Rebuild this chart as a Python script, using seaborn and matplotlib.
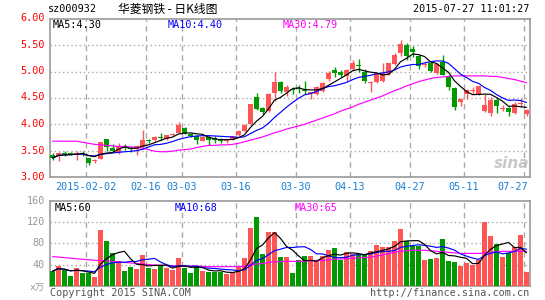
import numpy as np
import pandas as pd
import matplotlib
matplotlib.use("Agg")
import matplotlib.pyplot as plt
import seaborn as sns

sns.set_style("white")
plt.rcParams['font.family'] = ['DejaVu Sans Mono', 'Noto Sans CJK SC']

# ---------------- data ----------------
title_code = "sz000932"
title_name = "华菱钢铁 - 日K线图"
timestamp = "2015-07-27 11:01:27"
date_labels = ["2015-02-02", "02-16", "03-03", "03-16", "03-30", "04-13", "04-27", "05-11", "07-27"]
date_pos = [6, 16, 22, 31, 41, 50, 60, 69, 79]
price_ticks = [3.0, 3.5, 4.0, 4.5, 5.0, 5.5, 6.0]
vol_ticks = [40, 80, 120, 160]
price_ma_labels = ["MA5:4.30", "MA10:4.40", "MA30:4.79"]
vol_ma_labels = ["MA5:60", "MA10:68", "MA30:65"]

opens = [3.42, 3.40, 3.45, 3.45, 3.43, 3.45, 3.36, 3.30, 3.35, 3.72,
         3.55, 3.48, 3.56, 3.54, 3.53, 3.57, 3.70, 3.70, 3.75, 3.73,
         3.79, 3.84, 3.93, 3.82, 3.77, 3.69, 3.76, 3.75, 3.73, 3.68,
         3.71, 3.79, 3.87, 4.00, 4.52, 4.31, 4.25, 4.59, 4.81, 4.61,
         4.66, 4.68, 4.65, 4.58, 4.58, 4.64, 4.86, 5.04, 5.00, 4.92,
         5.05, 5.12, 5.00, 4.79, 4.80, 4.83, 4.96, 5.14, 5.36, 5.51,
         5.43, 5.30, 5.13, 5.16, 4.97, 5.18, 4.92, 4.69, 4.42, 4.58,
         4.64, 4.58, 4.25, 4.21, 4.47, 4.30, 4.31, 4.21, 4.39, 4.19]
highs = [3.46, 3.47, 3.50, 3.48, 3.50, 3.50, 3.37, 3.34, 3.67, 3.72,
         3.62, 3.64, 3.62, 3.58, 3.60, 3.90, 3.73, 3.78, 3.84, 3.80,
         3.83, 4.04, 3.95, 3.84, 3.80, 3.78, 3.79, 3.77, 3.75, 3.73,
         3.78, 3.90, 4.00, 4.38, 4.60, 4.32, 4.60, 5.00, 4.82, 4.75,
         4.70, 4.74, 4.82, 4.62, 4.72, 4.81, 5.02, 5.08, 5.04, 5.05,
         5.23, 5.25, 5.05, 4.83, 4.98, 5.17, 5.17, 5.36, 5.60, 5.55,
         5.49, 5.31, 5.18, 5.18, 5.17, 5.32, 4.93, 4.70, 4.50, 4.67,
         4.70, 4.73, 4.58, 4.52, 4.50, 4.36, 4.32, 4.42, 4.50, 4.30]
lows = [3.32, 3.31, 3.40, 3.42, 3.33, 3.40, 3.22, 3.27, 3.34, 3.50,
        3.48, 3.43, 3.52, 3.48, 3.42, 3.54, 3.64, 3.68, 3.71, 3.70,
        3.78, 3.83, 3.82, 3.76, 3.62, 3.68, 3.60, 3.65, 3.64, 3.64,
        3.70, 3.78, 3.86, 3.99, 4.28, 4.19, 4.24, 4.45, 4.60, 4.53,
        4.58, 4.59, 4.58, 4.48, 4.55, 4.62, 4.83, 4.89, 4.90, 4.82,
        5.04, 5.00, 4.79, 4.62, 4.78, 4.80, 4.94, 5.12, 5.30, 5.23,
        5.27, 5.06, 5.08, 5.00, 4.95, 4.93, 4.65, 4.28, 4.35, 4.48,
        4.58, 4.56, 4.24, 4.15, 4.22, 4.25, 4.15, 4.20, 4.33, 4.15]
closes = [3.36, 3.46, 3.44, 3.44, 3.46, 3.44, 3.26, 3.33, 3.67, 3.57,
          3.49, 3.58, 3.55, 3.53, 3.58, 3.70, 3.69, 3.76, 3.74, 3.79,
          3.81, 3.98, 3.84, 3.77, 3.70, 3.76, 3.70, 3.70, 3.68, 3.71,
          3.77, 3.87, 3.98, 4.38, 4.30, 4.23, 4.58, 4.81, 4.64, 4.70,
          4.65, 4.67, 4.64, 4.61, 4.70, 4.78, 4.97, 4.97, 4.94, 5.03,
          5.17, 5.11, 4.83, 4.81, 4.97, 4.97, 5.16, 5.32, 5.52, 5.30,
          5.37, 5.11, 5.14, 5.02, 5.14, 4.94, 4.70, 4.33, 4.49, 4.65,
          4.65, 4.72, 4.36, 4.47, 4.34, 4.31, 4.23, 4.39, 4.40, 4.28]
volumes = [27.5, 37, 29, 19, 33, 24, 24, 17, 106, 84,
           61, 46, 27.5, 36, 32, 57.5, 34, 32, 37, 34,
           29, 52.5, 34, 24, 36, 27.5, 26, 26, 26, 22,
           25, 36, 52, 109, 129, 59, 102, 102, 54, 54,
           24, 48, 56, 57, 46, 57, 67, 71, 48, 64,
           60, 60, 60, 65, 76, 72.5, 74, 84, 108, 84,
           75, 75, 48, 50, 52.5, 89, 46, 44, 37, 42.5,
           39, 48, 121, 93, 78, 54, 62.5, 72.5, 95, 26]
price_ma30 = [3.68, 3.68, 3.68, 3.68, 3.68, 3.66, 3.64, 3.62, 3.61, 3.60,
              3.59, 3.58, 3.58, 3.57, 3.56, 3.55, 3.52, 3.49, 3.48, 3.48,
              3.49, 3.51, 3.52, 3.53, 3.56, 3.58, 3.60, 3.60, 3.61, 3.61,
              3.62, 3.64, 3.67, 3.70, 3.73, 3.76, 3.80, 3.84, 3.87, 3.91,
              3.94, 3.97, 4.00, 4.04, 4.08, 4.12, 4.16, 4.20, 4.25, 4.29,
              4.33, 4.38, 4.42, 4.46, 4.50, 4.54, 4.59, 4.64, 4.68, 4.73,
              4.77, 4.81, 4.84, 4.87, 4.89, 4.90, 4.91, 4.92, 4.92, 4.92,
              4.92, 4.92, 4.92, 4.91, 4.91, 4.89, 4.87, 4.85, 4.82, 4.79]
vol_ma30 = [55, 54, 53, 52, 51, 50, 49, 48, 47.5, 47,
            46, 45, 44, 43, 42, 41, 40, 39, 38.5, 38,
            37.5, 37, 37, 37, 37, 36.5, 36, 36, 36, 36,
            36, 36, 37, 39, 41, 42, 44, 45, 45.5, 46,
            46, 46, 46.5, 47, 47.5, 48, 49, 50, 50.5, 51,
            52, 52.5, 53, 54, 56, 58, 61, 63, 65, 66,
            67, 67, 67, 66, 65, 64, 63, 62, 61, 61,
            61, 61, 62, 63, 64, 65, 65, 65, 65, 65]

# ---------------- styling ----------------
RED = "#ff5555"
GREEN = "#009a00"
GRID = "#aaaaaa"
FRAME = "#999999"
W, H = 545, 300
LW = 0.85

df = pd.DataFrame({"i": np.arange(len(closes)), "open": opens, "high": highs,
                   "low": lows, "close": closes, "vol": volumes,
                   "ma30": price_ma30, "vma30": vol_ma30})
df["ma5"] = df["close"].rolling(5, min_periods=1).mean()
df["ma10"] = df["close"].rolling(10, min_periods=1).mean()
df["vma5"] = df["vol"].rolling(5, min_periods=1).mean()
df["vma10"] = df["vol"].rolling(10, min_periods=1).mean()
df["color"] = np.where(df["close"] >= df["open"], RED, GREEN)

fig = plt.figure(figsize=(W / 100, H / 100), dpi=100)
fig.patch.set_facecolor("white")

def fx(px):
    return px / W

def fy(py):
    return 1 - py / H

ax1 = fig.add_axes([fx(50), fy(177), fx(480), 158 / H])
ax2 = fig.add_axes([fx(50), fy(285.7), fx(480), 84.7 / H])

xl = (-0.42, len(closes) - 0.42)
bw = 5 / 6

# ---- price panel ----
body_lo = np.minimum(df["open"], df["close"])
body_h = np.maximum(np.abs(df["close"] - df["open"]), 0.012)
ax1.vlines(df["i"], df["low"], df["high"], colors=df["color"], lw=1, zorder=3)
ax1.bar(df["i"], body_h, bottom=body_lo, width=bw, color=df["color"], lw=0, zorder=4)
sns.lineplot(data=df, x="i", y="ma30", ax=ax1, color="#ff00ff", lw=LW, zorder=5)
sns.lineplot(data=df, x="i", y="ma10", ax=ax1, color="#0000ff", lw=LW, zorder=6)
sns.lineplot(data=df, x="i", y="ma5", ax=ax1, color="black", lw=LW, zorder=7)
ax1.set_xlim(*xl)
ax1.set_ylim(3.0, 6.0)
for y in price_ticks[1:-1]:
    ax1.axhline(y, color=GRID, lw=1, ls=(0, (1, 2)), zorder=1)

# ---- volume panel ----
ax2.bar(df["i"], df["vol"], width=bw, color=df["color"], lw=0, zorder=3)
sns.lineplot(data=df, x="i", y="vma30", ax=ax2, color="#ff00ff", lw=LW, zorder=5)
sns.lineplot(data=df, x="i", y="vma10", ax=ax2, color="#0000ff", lw=LW, zorder=6)
sns.lineplot(data=df, x="i", y="vma5", ax=ax2, color="black", lw=LW, zorder=7)
ax2.set_xlim(*xl)
ax2.set_ylim(0, 160)
for y in vol_ticks[:-1]:
    ax2.axhline(y, color=GRID, lw=1, ls=(0, (1, 2)), zorder=1)

for ax in (ax1, ax2):
    for p in date_pos:
        ax.axvline(p - 0.4, color=GRID, lw=1, ls=(0, (4, 3)), zorder=1)
    ax.set_xticks([])
    ax.set_yticks([])
    ax.set_xlabel("")
    ax.set_ylabel("")
    for s in ax.spines.values():
        s.set_color(FRAME)
        s.set_linewidth(1.2)
        s.set_visible(True)

FS = 7.3
# price tick labels
for v in price_ticks:
    py = 177 - (v - 3.0) * 53
    fig.text(fx(45), fy(py), f"{v:.2f}", color="#ff0000", fontsize=FS,
             ha="right", va="center")
# volume tick labels
for v in vol_ticks:
    py = 285.7 - v * 84.7 / 160
    fig.text(fx(45), fy(py), f"{v}", color="#999999", fontsize=FS,
             ha="right", va="center")
fig.text(fx(45), fy(287), "x万", color="#999999", fontsize=FS - 0.5,
         ha="right", va="center", family=['DejaVu Sans Mono', 'Noto Sans CJK SC'])

# date labels
for k, (lab, p) in enumerate(zip(date_labels, date_pos)):
    px = 50 + 6 * (p + 0.42) - 2.4
    if k == len(date_labels) - 1:
        fig.text(fx(528), fy(187), lab, color="#1a7fd4", fontsize=FS,
                 ha="right", va="center")
    else:
        fig.text(fx(px), fy(187), lab, color="#1a7fd4", fontsize=FS,
                 ha="center", va="center")

# header
fig.text(fx(48), fy(9), title_code, color="black", fontsize=FS, ha="left", va="center")
fig.text(fx(168), fy(9), title_name, color="black", fontsize=8.5, ha="center",
         va="center", family=['Noto Sans CJK SC', 'DejaVu Sans Mono'])
fig.text(fx(529), fy(9), timestamp, color="black", fontsize=FS, ha="right", va="center")

# MA labels
for lab, px, c in zip(price_ma_labels, [53, 168, 283], ["black", "#0000ff", "#ff00ff"]):
    fig.text(fx(px), fy(25), lab, color=c, fontsize=FS, ha="left", va="center")
for lab, px, c in zip(vol_ma_labels, [55, 175, 295], ["black", "#0000ff", "#ff00ff"]):
    fig.text(fx(px), fy(208), lab, color=c, fontsize=FS, ha="left", va="center")

# footer
fig.text(fx(50), fy(293), "Copyright 2015 SINA.COM", color="#555555", fontsize=FS,
         ha="left", va="center")
fig.text(fx(529), fy(293), "http://finance.sina.com.cn", color="#555555", fontsize=FS,
         ha="right", va="center")

# watermark
fig.text(fx(512), fy(163), "sina", color="#bbbbbb", fontsize=11, ha="center",
         va="center", style="italic", weight="bold", family="DejaVu Sans", alpha=0.8)

fig.savefig("out.png", dpi=100, facecolor="white")
